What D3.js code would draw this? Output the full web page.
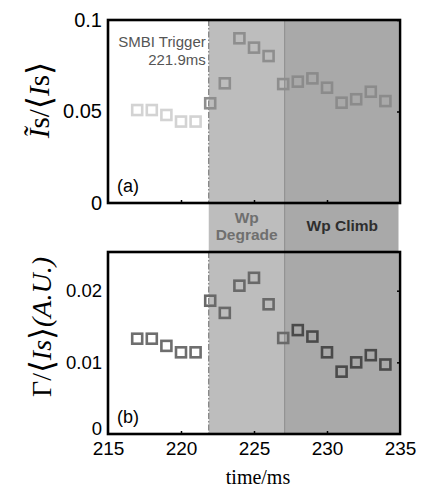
<!DOCTYPE html>
<html>
<head>
<meta charset="utf-8">
<script src="https://cdn.jsdelivr.net/npm/d3@7"></script>
<style>
  html, body { margin: 0; padding: 0; background: #fff; }
  svg { display: block; }
</style>
</head>
<body>
<svg id="chart" width="427" height="492"></svg>
<script>
// Sample times (ms)
const times = [217, 218, 219, 220, 221, 222, 223, 224, 225, 226, 227, 228, 229, 230, 231, 232, 233, 234];
// Panel (a): normalized fluctuation amplitude
const fluctValues = [0.0508, 0.0508, 0.0481, 0.0445, 0.0445, 0.0545, 0.0654, 0.0900, 0.0849, 0.0803, 0.0650, 0.0663, 0.0681, 0.0630, 0.0548, 0.0567, 0.0608, 0.0557];
// Panel (b): normalized flux
const fluxValues = [0.0133, 0.0133, 0.0123, 0.0114, 0.0114, 0.0186, 0.0169, 0.0207, 0.0218, 0.0181, 0.0134, 0.0145, 0.0136, 0.0114, 0.0087, 0.0100, 0.0110, 0.0097];
// Discharge phase of each sample
const phases = ["pre", "pre", "pre", "pre", "pre", "degrade", "degrade", "degrade", "degrade", "degrade", "degrade", "climb", "climb", "climb", "climb", "climb", "climb", "climb"];

const xTicks = [215, 220, 225, 230, 235];
const fluctTicks = [0, 0.05, 0.1];
const fluctTickLabels = ["0", "0.05", "0.1"];
const fluxTicks = [0, 0.01, 0.02];
const fluxTickLabels = ["0", "0.01", "0.02"];

const smbiTime = 221.9;
const climbStart = 227.1;
const xEnd = 235;

const SANS = "Liberation Sans, Arial, sans-serif";
const SERIF = "Liberation Serif, Times New Roman, serif";

const svg = d3.select("#chart");

const x = d3.scaleLinear().domain([215, 235]).range([108, 400]);
const yA = d3.scaleLinear().domain([0, 0.1]).range([203, 20]);
const yB = d3.scaleLinear().domain([0, 0.0254]).range([434, 252]);

const topY = yA.range()[1], bottomY = yB.range()[0];

// Phase shading spanning both panels
svg.append("rect")
  .attr("x", x(smbiTime)).attr("y", topY)
  .attr("width", x(climbStart) - x(smbiTime)).attr("height", bottomY - topY)
  .attr("fill", "#bdbdbd");
svg.append("rect")
  .attr("x", x(climbStart)).attr("y", topY)
  .attr("width", x(xEnd) - x(climbStart) - 1.5).attr("height", bottomY - topY)
  .attr("fill", "#a9a9a9");
svg.append("line")
  .attr("x1", x(climbStart)).attr("x2", x(climbStart))
  .attr("y1", topY).attr("y2", bottomY)
  .attr("stroke", "#8a8a8a").attr("stroke-width", 1);

// Phase labels in the gap between panels
const phaseLabel = svg.append("g")
  .attr("font-family", SANS)
  .attr("font-weight", "bold").attr("font-size", 15.5).attr("text-anchor", "middle");
const degradeX = (x(smbiTime) + x(climbStart)) / 2;
phaseLabel.append("text").attr("x", degradeX).attr("y", 223).attr("fill", "#6f6f6f").text("Wp");
phaseLabel.append("text").attr("x", degradeX).attr("y", 240).attr("fill", "#6f6f6f").text("Degrade");
phaseLabel.append("text").attr("x", (x(climbStart) + x(xEnd)) / 2).attr("y", 231).attr("fill", "#2e2e2e").text("Wp Climb");

const markerColors = {
  a: { pre: "#d3d3d3", degrade: "#8e8e8e", climb: "#8b8b8b" },
  b: { pre: "#6e6e6e", degrade: "#696969", climb: "#4a4a4a" }
};

function drawPanel(y, values, ticks, tickLabels, colors, tickFont, tag, zeroShift) {
  const [y0, y1] = y.range();
  const g = svg.append("g");

  // SMBI trigger line
  g.append("line")
    .attr("x1", x(smbiTime)).attr("x2", x(smbiTime))
    .attr("y1", y1).attr("y2", y0)
    .attr("stroke", "#6a6a6a").attr("stroke-width", 1)
    .attr("stroke-dasharray", "6,2,1.5,2");

  // Markers
  g.selectAll("rect.pt").data(times).join("rect")
    .attr("class", "pt")
    .attr("x", (d) => x(d) - 5).attr("y", (d, i) => y(values[i]) - 5)
    .attr("width", 10).attr("height", 10)
    .attr("fill", "none")
    .attr("stroke", (d, i) => colors[phases[i]])
    .attr("stroke-width", 2.6);

  // Inner tick marks on bottom and right
  const ax = d3.axisBottom(x).tickValues(xTicks.slice(1, -1)).tickSize(-3).tickFormat("");
  g.append("g").attr("transform", `translate(0,${y0})`).call(ax)
    .call((s) => s.select(".domain").remove())
    .selectAll("line").attr("stroke", "#000").attr("stroke-width", 1.5);
  const ayr = d3.axisRight(y).tickValues(ticks.slice(1)).tickSize(-3).tickFormat("");
  g.append("g").attr("transform", `translate(${x.range()[1]},0)`).call(ayr)
    .call((s) => s.select(".domain").remove())
    .selectAll("line").attr("stroke", "#000").attr("stroke-width", 1.5);

  // Box
  g.append("rect")
    .attr("x", x.range()[0]).attr("y", y1)
    .attr("width", x.range()[1] - x.range()[0]).attr("height", y0 - y1)
    .attr("fill", "none").attr("stroke", "#000").attr("stroke-width", 2.6);

  // Y tick labels
  const ayl = d3.axisLeft(y).tickValues(ticks).tickSize(0).tickPadding(6)
    .tickFormat((d, i) => tickLabels[i]);
  const gl = g.append("g").attr("transform", `translate(${x.range()[0]},0)`).call(ayl);
  gl.select(".domain").remove();
  gl.attr("font-family", SANS).attr("font-size", tickFont);
  gl.selectAll("text").attr("fill", "#000")
    .attr("y", (d) => (d === 0 ? -zeroShift : 0));

  // Panel tag
  g.append("text").attr("font-family", SANS)
    .attr("x", x.range()[0] + 9).attr("y", y0 - 11)
    .attr("font-size", 18).attr("fill", "#000").text(tag);
  return g;
}

drawPanel(yA, fluctValues, fluctTicks, fluctTickLabels, markerColors.a, 20, "(a)", 0);
drawPanel(yB, fluxValues, fluxTicks, fluxTickLabels, markerColors.b, 18.5, "(b)", 5);

// SMBI annotation
const ann = svg.append("g").attr("font-family", SANS)
  .attr("font-size", 15).attr("fill", "#555").attr("text-anchor", "end");
ann.append("text").attr("x", x(smbiTime) - 3).attr("y", 47).text("SMBI Trigger");
ann.append("text").attr("x", x(smbiTime) - 3).attr("y", 65).text("221.9ms");

// X tick labels
const axB = d3.axisBottom(x).tickValues(xTicks).tickSize(0).tickPadding(8).tickFormat(d3.format("d"));
const gx = svg.append("g").attr("transform", `translate(0,${bottomY})`).call(axB);
gx.select(".domain").remove();
gx.attr("font-family", SANS).attr("font-size", 19);
gx.selectAll("text").attr("fill", "#000");

svg.append("text").attr("font-family", SERIF).attr("font-weight", "normal")
  .attr("x", (x.range()[0] + x.range()[1]) / 2 + 4).attr("y", 484)
  .attr("text-anchor", "middle").attr("font-size", 20).attr("fill", "#000").text("time/ms");

// Y axis titles
const titleA = svg.append("text").attr("font-family", SERIF).attr("fill", "#000")
  .attr("transform", `translate(49,100) rotate(-90)`)
  .attr("text-anchor", "middle").attr("font-size", 29);
titleA.append("tspan").attr("font-style", "italic").text("I\u0303");
titleA.append("tspan").text("s/");
titleA.append("tspan").attr("font-family", "DejaVu Serif").attr("font-size", 34).attr("dy", 2).text("\u27E8");
titleA.append("tspan").attr("font-style", "italic").attr("dy", -2).text("I");
titleA.append("tspan").text("s");
titleA.append("tspan").attr("font-family", "DejaVu Serif").attr("font-size", 34).attr("dy", 2).text("\u27E9");

const titleB = svg.append("text").attr("font-family", SERIF).attr("fill", "#000")
  .attr("transform", `translate(51,327) rotate(-90)`)
  .attr("text-anchor", "middle").attr("font-size", 28);
titleB.append("tspan").text("\u0393/");
titleB.append("tspan").attr("font-family", "DejaVu Serif").attr("font-size", 33).attr("dy", 2).text("\u27E8");
titleB.append("tspan").attr("font-style", "italic").attr("dy", -2).text("Is");
titleB.append("tspan").attr("font-family", "DejaVu Serif").attr("font-size", 33).attr("dy", 2).text("\u27E9");
titleB.append("tspan").attr("font-style", "italic").attr("dy", -2).text("(A.U.)");
</script>
</body>
</html>
